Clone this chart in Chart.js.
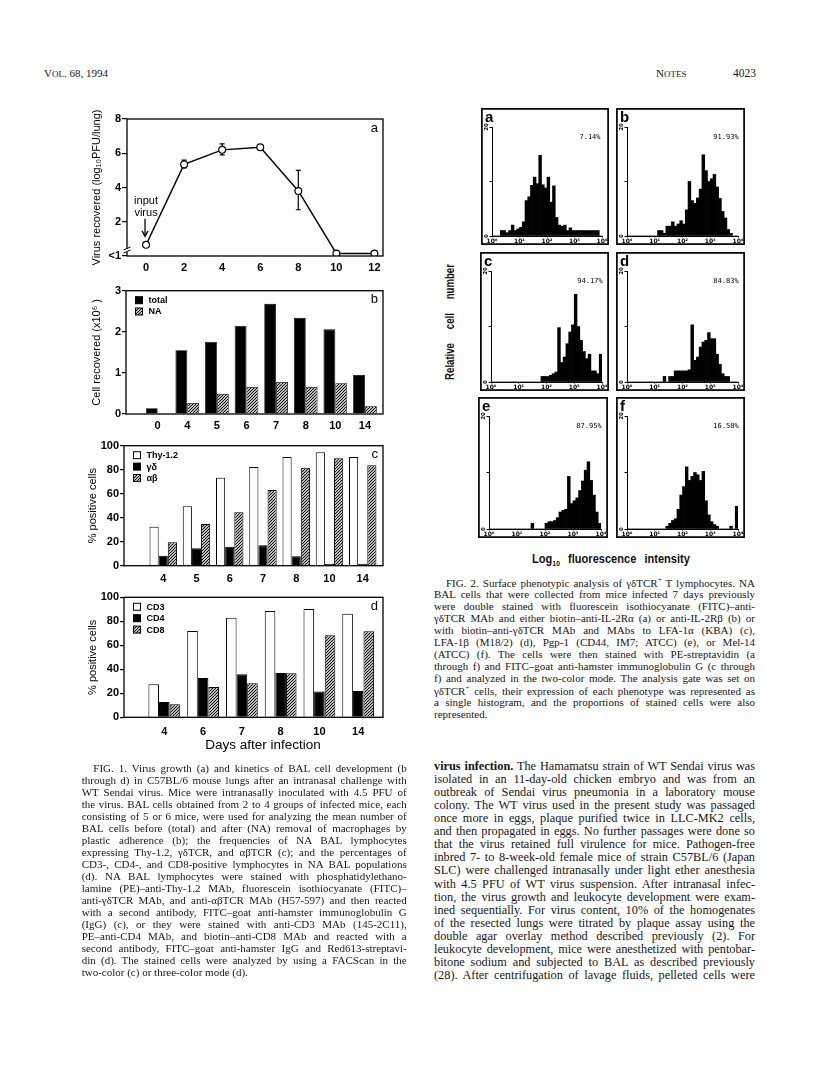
<!DOCTYPE html>
<html><head><meta charset="utf-8">
<script src="https://cdn.jsdelivr.net/npm/chart.js@4.4.1/dist/chart.umd.min.js"></script>
<style>
html,body{margin:0;padding:0;background:#fff;}
body{width:816px;height:1070px;position:relative;overflow:hidden;}
.ln{position:absolute;white-space:nowrap;line-height:1;color:#161616;font-family:'Liberation Serif','Times New Roman',serif;}
.lab{position:absolute;white-space:nowrap;color:#111;font-family:'Liberation Sans',Arial,sans-serif;font-weight:bold;}
</style></head><body>
<script>
// ---------- FIG. 1a : virus growth ----------
const virusDays = [0, 2, 4, 6, 8, 10, 12];
const virusTiter = [0.65, 5.35, 6.2, 6.35, 3.8, 0.15, 0.15];
const virusErrLow = [null, 5.15, 5.9, null, 2.7, null, null];
const virusErrHigh = [null, 5.6, 6.55, null, 5.0, null, null];
const virusXTicks = [0, 2, 4, 6, 8, 10, 12];
const virusYTicks = [0, 2, 4, 6, 8];
const virusYTickLabels = ['<1', '2', '4', '6', '8'];

// ---------- FIG. 1b : cells recovered (x10^6) ----------
const cellDays = ['0', '4', '5', '6', '7', '8', '10', '14'];
const cellTotal = [0.14, 1.55, 1.76, 2.15, 2.68, 2.34, 2.06, 0.95];
const cellNA = [0.02, 0.27, 0.49, 0.66, 0.78, 0.66, 0.75, 0.19];
const cellYTicks = [0, 1, 2, 3];

// ---------- FIG. 1c : % positive cells ----------
const tcrDays = ['4', '5', '6', '7', '8', '10', '14'];
const thy12 = [32.5, 49.5, 73.3, 82.2, 90.6, 94.5, 90.6];
const gammaDelta = [8.3, 14.5, 15.8, 17.0, 7.8, 1.4, 1.4];
const alphaBeta = [19.5, 34.7, 44.5, 63.0, 81.7, 89.5, 83.7];

// ---------- FIG. 1d : % positive cells ----------
const cdDays = ['4', '6', '7', '8', '10', '14'];
const cd3 = [27.5, 71.9, 83.0, 88.6, 90.3, 86.3];
const cd4 = [12.8, 32.8, 35.8, 36.9, 21.4, 21.9];
const cd8 = [10.8, 25.3, 28.3, 36.7, 68.3, 71.7];
const pctYTicks = [0, 20, 40, 60, 80, 100];

// ---------- FIG. 2 : histograms (log10 fluorescence bins, 0.1 decade) ----------
const histBinCenters = [0.05,0.15,0.25,0.35,0.45,0.55,0.65,0.75,0.85,0.95,
  1.05,1.15,1.25,1.35,1.45,1.55,1.65,1.75,1.85,1.95,
  2.05,2.15,2.25,2.35,2.45,2.55,2.65,2.75,2.85,2.95,
  3.05,3.15,3.25,3.35,3.45,3.55,3.65,3.75,3.85,3.95];
const histA = [0,0,0,1,1,0.6,1,2,1,1.3, 1.6,2.6,6.5,7.2,9.3,10.8,9.6,14.8,9.4,8.8, 10.8,6.2,9.2,3.4,2,1.8,2,1,1.5,1, 1,1,1,1,1,1,1,1,1,0];
const histB = [0,0,0,0,0,0,0,0,0,0, 0,1,1,0.5,1.8,1.8,2.6,1.8,2.2,2.8, 2.2,4.8,10,6.5,6,7,8.6,14.9,12,10, 10.5,11.3,9,6.9,4.5,3.3,1.2,0.5,0,0];
const histC = [0,0,0,0,0,0,0,0,0,0, 0,0,0,0,0,0,0,0,1,1, 1,1.2,1.5,1.8,9.8,3.5,4.5,6.9,9,10.3, 15.8,10,7.5,5.5,4.2,5,2,2,1.5,5];
const histD = [0,0,0,0,0,0,0,0,0,0, 0,0,0,1,0,1,1,2,2,2, 2,2,2.2,10.3,3.9,4.5,6.3,7.2,7.5,8.9, 7.8,7.8,5,3.2,1.5,1,1,0,0,0];
const histE = [0,0,0,0,0,0,0,0,0,0, 0,0,0,0,0,1,0,0,0,0, 1,1.3,1.3,1.5,2,3,3.3,3.5,9.3,4.5, 5,5.5,6.8,8.5,10.4,11.9,8.6,6,3,1];
const histF = [0,0,0,0,0,0,0,0,0,0, 0,0,0,0,0.5,1,1.5,1.8,3.5,6, 7.5,11,8.6,9.3,10,9.6,8.6,10.2,5,2.5, 1.3,0.8,0.5,0,0,0,0,0.5,0,4];
const histXTicks = [0, 1, 2, 3, 4];
const histXTickLabels = ['10⁰', '10¹', '10²', '10³', '10⁴'];
const histYTicks = [0, 10, 20];
const histYLabelTicks = [0, 20];
const histPanels = ['a', 'b', 'c', 'd', 'e', 'f'];
const histPercents = ['7.14%', '91.93%', '94.17%', '84.83%', '87.95%', '16.58%'];

// ---------------------------------------------------------------
const SANS = "'Liberation Sans', Arial, sans-serif";
Chart.defaults.font.family = SANS;
Chart.defaults.color = '#000';

function makeCanvas(left, top, w, h) {
  const c = document.createElement('canvas');
  c.width = w; c.height = h;
  c.style.cssText = `position:absolute;left:${left}px;top:${top}px;width:${w}px;height:${h}px;`;
  document.body.appendChild(c);
  return c;
}
function hatch(ctx) {
  const t = document.createElement('canvas'); t.width = 3; t.height = 3;
  const g = t.getContext('2d');
  g.fillStyle = '#fff'; g.fillRect(0, 0, 3, 3);
  g.strokeStyle = '#000'; g.lineWidth = 1.05;
  g.beginPath();
  g.moveTo(-1, 4); g.lineTo(4, -1);
  g.moveTo(-1, 1); g.lineTo(1, -1);
  g.moveTo(2, 4); g.lineTo(4, 2);
  g.stroke();
  return ctx.createPattern(t, 'repeat');
}
function frameRect(ctx, a, lw) {
  ctx.save(); ctx.strokeStyle = '#000'; ctx.lineWidth = lw;
  ctx.strokeRect(a.left, a.top, a.right - a.left, a.bottom - a.top);
  ctx.restore();
}
function drawLegend(chart, rowH) {
  const {ctx, chartArea: a} = chart;
  ctx.save();
  ctx.font = 'bold 9px ' + SANS; ctx.textBaseline = 'middle'; ctx.fillStyle = '#000';
  chart.data.datasets.forEach((ds, i) => {
    const cy = a.top + 9.5 + i * rowH;
    const bx = a.left + 9.5;
    ctx.fillStyle = ds.backgroundColor;
    ctx.fillRect(bx, cy - 3.5, 7, 7);
    ctx.strokeStyle = '#000'; ctx.lineWidth = 1;
    ctx.strokeRect(bx, cy - 3.5, 7, 7);
    ctx.fillStyle = '#000';
    ctx.fillText(ds.label, bx + 13, cy + 0.5);
  });
  ctx.restore();
}
function drawLetter(chart, letter) {
  const {ctx, chartArea: a} = chart;
  ctx.save(); ctx.font = '13px ' + SANS; ctx.fillStyle = '#000';
  ctx.textAlign = 'right'; ctx.textBaseline = 'middle';
  ctx.fillText(letter, a.right - 5, a.top + 9);
  ctx.restore();
}
const tickFont = {family: SANS, size: 11, weight: 'bold'};

function yAxisCfg(ticksArr, labelFn, areaL, L, tickLen, titleText, titleX) {
  return {
    min: ticksArr[0], max: ticksArr[ticksArr.length - 1],
    afterBuildTicks: s => { s.ticks = ticksArr.map(v => ({value: v})); },
    afterFit: s => { s.width = areaL - L; },
    grid: {drawOnChartArea: false, drawTicks: true, tickLength: tickLen, color: '#000', lineWidth: 1.2},
    border: {display: false},
    ticks: {padding: 1, color: '#000', font: tickFont, callback: labelFn},
    title: {display: true, text: titleText, color: '#000', font: {family: SANS, size: 11},
            padding: {top: titleX - L - 6.6, bottom: 0}}
  };
}
function xIndexAxis(labels, min, max, axisBottom, T, H, labelCenterBelow) {
  return {
    type: 'linear', min: min, max: max, offset: false,
    afterBuildTicks: s => { s.ticks = labels.map((d, i) => ({value: i})); },
    afterFit: s => { s.height = T + H - axisBottom; },
    grid: {display: false, drawTicks: false, offset: false},
    border: {display: false},
    ticks: {padding: labelCenterBelow - 6.6, color: '#000', font: tickFont, maxRotation: 0, autoSkip: false,
            callback: v => labels[v] !== undefined ? labels[v] : ''}
  };
}

// ================= FIG 1a =================
(function () {
  const L = 60, T = 100, W = 330, H = 180;
  const area = {l: 127, t: 119, r: 383, b: 256};
  const c = makeCanvas(L, T, W, H);
  new Chart(c, {
    type: 'line',
    data: {datasets: [{
      data: virusDays.map((d, i) => ({x: d, y: virusTiter[i]})),
      borderColor: '#000', borderWidth: 1.4, tension: 0,
      pointRadius: 3.4, pointBackgroundColor: '#fff', pointBorderColor: '#000', pointBorderWidth: 1.2
    }]},
    options: {
      responsive: false, animation: false, devicePixelRatio: 1,
      layout: {padding: {left: 0, top: area.t - T, right: L + W - area.r, bottom: 0}},
      plugins: {legend: {display: false}, tooltip: {enabled: false}},
      scales: {
        x: {type: 'linear', min: -1, max: 12.45,
            afterBuildTicks: s => { s.ticks = virusXTicks.map(v => ({value: v})); },
            afterFit: s => { s.height = T + H - area.b; },
            grid: {display: false, drawTicks: false}, border: {display: false},
            ticks: {padding: 5.4, color: '#000', font: tickFont, maxRotation: 0, autoSkip: false}},
        y: yAxisCfg(virusYTicks, v => { const i = virusYTicks.indexOf(v); return i >= 0 ? virusYTickLabels[i] : ''; },
                    area.l, L, 5, 'Virus recovered (log₁₀PFU/lung)', 96.7)
      }
    },
    plugins: [{
      id: 'deco',
      beforeDatasetsDraw(chart) {
        const {ctx, scales: {x, y}} = chart;
        ctx.save(); ctx.strokeStyle = '#000'; ctx.lineWidth = 1.2;
        virusDays.forEach((d, i) => {
          if (virusErrLow[i] == null) return;
          const px = x.getPixelForValue(d);
          const y1 = y.getPixelForValue(virusErrHigh[i]), y2 = y.getPixelForValue(virusErrLow[i]);
          ctx.beginPath();
          ctx.moveTo(px, y1); ctx.lineTo(px, y2);
          ctx.moveTo(px - 2.5, y1); ctx.lineTo(px + 2.5, y1);
          ctx.moveTo(px - 2.5, y2); ctx.lineTo(px + 2.5, y2);
          ctx.stroke();
        });
        ctx.restore();
      },
      afterDraw(chart) {
        const {ctx, chartArea: a, scales: {x, y}} = chart;
        frameRect(ctx, a, 1.3);
        ctx.save(); ctx.fillStyle = '#fff'; ctx.fillRect(a.left - 3, a.bottom - 7, 6, 3);
        ctx.strokeStyle = '#000'; ctx.lineWidth = 1;
        ctx.beginPath();
        ctx.moveTo(a.left - 3.5, a.bottom - 6); ctx.lineTo(a.left + 3.5, a.bottom - 9);
        ctx.moveTo(a.left - 3.5, a.bottom - 3); ctx.lineTo(a.left + 3.5, a.bottom - 6);
        ctx.stroke();
        const px = x.getPixelForValue(virusDays[0]) - 1;
        const py = y.getPixelForValue(virusTiter[0]);
        ctx.fillStyle = '#000'; ctx.font = '11px ' + SANS; ctx.textAlign = 'center'; ctx.textBaseline = 'middle';
        ctx.fillText('input', px + 1, py - 44);
        ctx.fillText('virus', px + 1, py - 32);
        ctx.lineWidth = 1.3;
        ctx.beginPath(); ctx.moveTo(px, py - 26); ctx.lineTo(px, py - 9); ctx.stroke();
        ctx.beginPath(); ctx.moveTo(px - 3, py - 14); ctx.lineTo(px, py - 8.5); ctx.lineTo(px + 3, py - 14); ctx.stroke();
        ctx.restore();
        drawLetter(chart, 'a');
      }
    }]
  });
})();

// ================= FIG 1b =================
(function () {
  const L = 60, T = 270, W = 330, H = 165;
  const area = {l: 126, t: 290.7, r: 383, b: 414};
  const c = makeCanvas(L, T, W, H);
  const hp = hatch(c.getContext('2d'));
  new Chart(c, {
    type: 'bar',
    data: {datasets: [
      {label: 'total', data: cellTotal.map((v, i) => ({x: i, y: v})), backgroundColor: '#000', borderColor: '#000', borderWidth: 0.8},
      {label: 'NA', data: cellNA.map((v, i) => ({x: i, y: v})), backgroundColor: hp, borderColor: '#000', borderWidth: 0.8}
    ]},
    options: {
      responsive: false, animation: false, devicePixelRatio: 1,
      categoryPercentage: 0.8, barPercentage: 1.0,
      layout: {padding: {left: 0, top: area.t - T, right: L + W - area.r, bottom: 0}},
      plugins: {legend: {display: false}, tooltip: {enabled: false}},
      scales: {
        x: xIndexAxis(cellDays, -1.07, 7.61, area.b, T, H, 11.7),
        y: yAxisCfg(cellYTicks, v => String(v), area.l, L, 4, 'Cell recovered (x10⁶ )', 96.7)
      }
    },
    plugins: [{id: 'deco', afterDraw(chart) {
      frameRect(chart.ctx, chart.chartArea, 1.3);
      drawLegend(chart, 11.3);
      drawLetter(chart, 'b');
    }}]
  });
})();

// ================= FIG 1c =================
(function () {
  const L = 60, T = 420, W = 330, H = 165;
  const area = {l: 124, t: 445.7, r: 383, b: 565.7};
  const c = makeCanvas(L, T, W, H);
  const hp = hatch(c.getContext('2d'));
  new Chart(c, {
    type: 'bar',
    data: {datasets: [
      {label: 'Thy-1.2', data: thy12.map((v, i) => ({x: i, y: v})), backgroundColor: '#fff', borderColor: '#000', borderWidth: 1},
      {label: 'γδ', data: gammaDelta.map((v, i) => ({x: i, y: v})), backgroundColor: '#000', borderColor: '#000', borderWidth: 1},
      {label: 'αβ', data: alphaBeta.map((v, i) => ({x: i, y: v})), backgroundColor: hp, borderColor: '#000', borderWidth: 1}
    ]},
    options: {
      responsive: false, animation: false, devicePixelRatio: 1,
      categoryPercentage: 0.825, barPercentage: 1.0,
      layout: {padding: {left: 0, top: area.t - T, right: L + W - area.r, bottom: 0}},
      plugins: {legend: {display: false}, tooltip: {enabled: false}},
      scales: {
        x: xIndexAxis(tcrDays, -1.18, 6.61, area.b, T, H, 13.3),
        y: yAxisCfg(pctYTicks, v => String(v), area.l, L, 4, '% positive cells', 93.3)
      }
    },
    plugins: [{id: 'deco', afterDraw(chart) {
      frameRect(chart.ctx, chart.chartArea, 1.3);
      drawLegend(chart, 11.4);
      drawLetter(chart, 'c');
    }}]
  });
})();

// ================= FIG 1d =================
(function () {
  const L = 60, T = 580, W = 330, H = 180;
  const area = {l: 124, t: 597.3, r: 383, b: 717.3};
  const c = makeCanvas(L, T, W, H);
  const hp = hatch(c.getContext('2d'));
  new Chart(c, {
    type: 'bar',
    data: {datasets: [
      {label: 'CD3', data: cd3.map((v, i) => ({x: i, y: v})), backgroundColor: '#fff', borderColor: '#000', borderWidth: 1},
      {label: 'CD4', data: cd4.map((v, i) => ({x: i, y: v})), backgroundColor: '#000', borderColor: '#000', borderWidth: 1},
      {label: 'CD8', data: cd8.map((v, i) => ({x: i, y: v})), backgroundColor: hp, borderColor: '#000', borderWidth: 1}
    ]},
    options: {
      responsive: false, animation: false, devicePixelRatio: 1,
      categoryPercentage: 0.82, barPercentage: 1.0,
      layout: {padding: {left: 0, top: area.t - T, right: L + W - area.r, bottom: 0}},
      plugins: {legend: {display: false}, tooltip: {enabled: false}},
      scales: {
        x: xIndexAxis(cdDays, -1.04, 5.64, area.b, T, H, 14.4),
        y: yAxisCfg(pctYTicks, v => String(v), area.l, L, 4, '% positive cells', 93.3)
      }
    },
    plugins: [{id: 'deco', afterDraw(chart) {
      const {ctx, chartArea: a} = chart;
      frameRect(ctx, a, 1.3);
      drawLegend(chart, 11.4);
      drawLetter(chart, 'd');
      ctx.save(); ctx.font = '13.5px ' + SANS; ctx.fillStyle = '#000';
      ctx.textAlign = 'center'; ctx.textBaseline = 'middle';
      ctx.fillText('Days after infection', 263 - L, 745 - T);
      ctx.restore();
    }}]
  });
})();

// ================= FIG 2 histograms =================
const histBoxes = [[481, 108, 128, 137], [616, 108, 129, 137], [480, 252, 129, 139],
                   [616, 252, 129, 139], [478, 397, 130, 141], [616, 397, 129, 141]];
const histData = [histA, histB, histC, histD, histE, histF];
histPanels.forEach((letter, k) => {
  const [L, T, W, H] = histBoxes[k];
  const c = makeCanvas(L, T, W, H);
  const area = {l: 11, t: 19, r: W - 7, b: H - 9};
  const values = histData[k];
  new Chart(c, {
    type: 'bar',
    data: {datasets: [{data: histBinCenters.map((x, i) => ({x: x, y: values[i]})),
      backgroundColor: '#000', borderWidth: 0, categoryPercentage: 1, barPercentage: 1}]},
    options: {
      responsive: false, animation: false, devicePixelRatio: 1,
      layout: {padding: {left: 0, top: area.t, right: W - area.r, bottom: 0}},
      plugins: {legend: {display: false}, tooltip: {enabled: false}},
      scales: {
        x: {type: 'linear', min: 0, max: 4, offset: false,
            afterBuildTicks: s => { s.ticks = histXTicks.map(v => ({value: v})); },
            afterFit: s => { s.height = H - area.b; },
            grid: {display: true, drawOnChartArea: false, drawTicks: true, tickLength: 1.5, color: '#000', offset: false},
            border: {display: true, color: '#000', width: 1},
            ticks: {padding: 0, color: '#000', font: {family: "'DejaVu Sans'", size: 6, weight: 'bold'},
                    maxRotation: 0, autoSkip: false,
                    callback: v => { const i = histXTicks.indexOf(v); return i >= 0 ? histXTickLabels[i] : ''; }}},
        y: {min: 0, max: 20,
            afterBuildTicks: s => { s.ticks = histYTicks.map(v => ({value: v})); },
            afterFit: s => { s.width = area.l; },
            grid: {drawOnChartArea: false, drawTicks: true, tickLength: 2.5, color: '#000'},
            border: {display: true, color: '#000', width: 1},
            ticks: {display: false}}
      }
    },
    plugins: [{id: 'deco', afterDraw(chart) {
      const {ctx, chartArea: a, scales: {y}} = chart;
      ctx.save();
      ctx.strokeStyle = '#000'; ctx.lineWidth = 1.7;
      ctx.strokeRect(0.9, 0.9, W - 1.8, H - 1.8);
      ctx.fillStyle = '#000';
      ctx.font = 'bold 15px ' + SANS; ctx.textBaseline = 'middle'; ctx.textAlign = 'left';
      ctx.fillText(letter, 4, 10);
      ctx.font = "7px 'DejaVu Sans Mono'"; ctx.textAlign = 'center';
      ctx.fillText(histPercents[k], W - 19, 29);
      histYLabelTicks.forEach(v => {
        ctx.save();
        ctx.translate(a.left - 5.5, y.getPixelForValue(v));
        ctx.rotate(-Math.PI / 2);
        ctx.font = "bold 5.5px 'DejaVu Sans'"; ctx.textAlign = 'center'; ctx.textBaseline = 'middle';
        ctx.fillText(String(v), 0, 0);
        ctx.restore();
      });
      ctx.restore();
    }}]
  });
});

// ================= text =================
function addLabel(html, cx, cy, css) {
  const d = document.createElement('div');
  d.className = 'lab'; d.innerHTML = html; d.style.cssText += css;
  d.style.left = cx + 'px'; d.style.top = cy + 'px';
  document.body.appendChild(d);
  return d;
}
addLabel('Relative cell number', 450, 321.5,
  'font-size:12px;word-spacing:14px;transform:translate(-50%,-50%) rotate(-90deg) scaleX(0.8);');
addLabel('Log<sub style="font-size:8px;vertical-align:-3px">10</sub> fluorescence intensity', 611, 559,
  'font-size:13px;word-spacing:6px;transform:translate(-50%,-50%) scaleX(0.85);');

function placeLines(lines, o) {
  lines.forEach((t, i) => {
    const d = document.createElement('div');
    d.className = 'ln';
    d.innerHTML = t;
    d.style.fontSize = o.size + 'px';
    const ind = i === 0 ? (o.indent || 0) : 0;
    d.style.left = (o.left + ind) + 'px';
    d.style.top = (o.y0 + i * o.lh - o.size * 0.6) + 'px';
    document.body.appendChild(d);
    if (o.lastNatural && i === lines.length - 1) return;
    const w = o.width - ind;
    const nat = d.getBoundingClientRect().width;
    const spaces = (d.textContent.match(/ /g) || []).length;
    if (spaces) d.style.wordSpacing = ((w - nat) / spaces) + 'px';
  });
}

// running head
placeLines(['V<span style="font-size:9px">OL</span>. 68, 1994'], {left: 44, width: 80, y0: 75, lh: 12, size: 11, lastNatural: true});
placeLines(['N<span style="font-size:9px">OTES</span>'], {left: 656, width: 40, y0: 75, lh: 12, size: 11, lastNatural: true});
placeLines(['4023'], {left: 733, width: 24, y0: 75, lh: 12, size: 11.5, lastNatural: true});

const fig1Caption = [
  'FIG. 1. Virus growth (a) and kinetics of BAL cell development (b',
  'through d) in C57BL/6 mouse lungs after an intranasal challenge with',
  'WT Sendai virus. Mice were intranasally inoculated with 4.5 PFU of',
  'the virus. BAL cells obtained from 2 to 4 groups of infected mice, each',
  'consisting of 5 or 6 mice, were used for analyzing the mean number of',
  'BAL cells before (total) and after (NA) removal of macrophages by',
  'plastic adherence (b); the frequencies of NA BAL lymphocytes',
  'expressing Thy-1.2, γδTCR, and αβTCR (c); and the percentages of',
  'CD3-, CD4-, and CD8-positive lymphocytes in NA BAL populations',
  '(d). NA BAL lymphocytes were stained with phosphatidylethano-',
  'lamine (PE)–anti-Thy-1.2 MAb, fluorescein isothiocyanate (FITC)–',
  'anti-γδTCR MAb, and anti-αβTCR MAb (H57-597) and then reacted',
  'with a second antibody, FITC–goat anti-hamster immunoglobulin G',
  '(IgG) (c), or they were stained with anti-CD3 MAb (145-2C11),',
  'PE–anti-CD4 MAb, and biotin–anti-CD8 MAb and reacted with a',
  'second antibody, FITC–goat anti-hamster IgG and Red613-streptavi-',
  'din (d). The stained cells were analyzed by using a FACScan in the',
  'two-color (c) or three-color mode (d).'
];
placeLines(fig1Caption, {left: 81.7, width: 325, y0: 770, lh: 12.0, size: 11, indent: 11.6, lastNatural: true});

const fig2Caption = [
  'FIG. 2. Surface phenotypic analysis of γδTCR<sup style="font-size:7px">+</sup> T lymphocytes. NA',
  'BAL cells that were collected from mice infected 7 days previously',
  'were double stained with fluorescein isothiocyanate (FITC)–anti-',
  'γδTCR MAb and either biotin–anti-IL-2Rα (a) or anti-IL-2Rβ (b) or',
  'with biotin–anti-γδTCR MAb and MAbs to LFA-1α (KBA) (c),',
  'LFA-1β (M18/2) (d), Pgp-1 (CD44, IM7; ATCC) (e), or Mel-14',
  '(ATCC) (f). The cells were then stained with PE-streptavidin (a',
  'through f) and FITC–goat anti-hamster immunoglobulin G (c through',
  'f) and analyzed in the two-color mode. The analysis gate was set on',
  'γδTCR<sup style="font-size:7px">+</sup> cells, their expression of each phenotype was represented as',
  'a single histogram, and the proportions of stained cells were also',
  'represented.'
];
placeLines(fig2Caption, {left: 434, width: 321, y0: 583.3, lh: 12.0, size: 11, indent: 12, lastNatural: true});

const bodyText = [
  '<b>virus infection.</b> The Hamamatsu strain of WT Sendai virus was',
  'isolated in an 11-day-old chicken embryo and was from an',
  'outbreak of Sendai virus pneumonia in a laboratory mouse',
  'colony. The WT virus used in the present study was passaged',
  'once more in eggs, plaque purified twice in LLC-MK2 cells,',
  'and then propagated in eggs. No further passages were done so',
  'that the virus retained full virulence for mice. Pathogen-free',
  'inbred 7- to 8-week-old female mice of strain C57BL/6 (Japan',
  'SLC) were challenged intranasally under light ether anesthesia',
  'with 4.5 PFU of WT virus suspension. After intranasal infec-',
  'tion, the virus growth and leukocyte development were exam-',
  'ined sequentially. For virus content, 10% of the homogenates',
  'of the resected lungs were titrated by plaque assay using the',
  'double agar overlay method described previously (2). For',
  'leukocyte development, mice were anesthetized with pentobar-',
  'bitone sodium and subjected to BAL as described previously',
  '(28). After centrifugation of lavage fluids, pelleted cells were'
];
placeLines(bodyText, {left: 434, width: 321, y0: 767, lh: 13.1, size: 12.3, indent: 0, lastNatural: false});
</script>
</body></html>
